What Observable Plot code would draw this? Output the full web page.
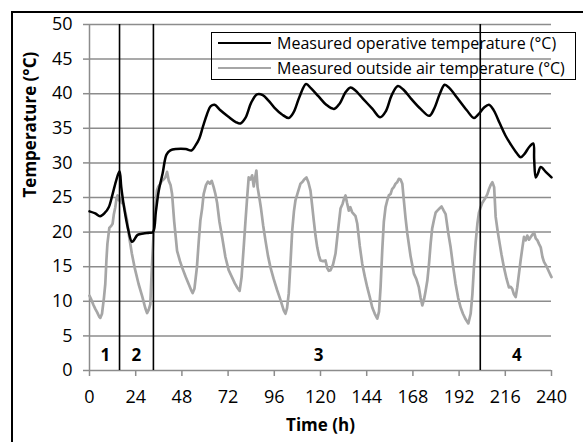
<!DOCTYPE html>
<html>
<head>
<meta charset="utf-8">
<script src="https://cdn.jsdelivr.net/npm/d3@7"></script>
<script src="https://cdn.jsdelivr.net/npm/@observablehq/plot@0.6"></script>
<style>
  html, body { margin: 0; padding: 0; background: #fff; }
  #wrap { position: relative; width: 583px; height: 442px; overflow: hidden; font-family: "Open Sans", sans-serif; }
  #border { position: absolute; left: 11px; top: 11px; width: 640px; height: 500px; border: 2px solid #000; box-sizing: border-box; }
  #chart { position: absolute; left: 0; top: 0; }
  #legend { position: absolute; left: 211px; top: 32px; width: 365px; height: 48px; border: 1.5px solid #000; box-sizing: border-box; }
  .row { position: absolute; left: 0; height: 20px; display: flex; align-items: center; font-size: 16px; white-space: nowrap; }
  .sw { display: inline-block; width: 53px; height: 0; margin-left: 6px; margin-right: 6px; }
</style>
</head>
<body>
<div id="wrap">
  <div id="border"></div>
  <div id="chart"></div>
  <div id="legend"></div>
</div>
<script>
// ---- data ----
const seriesNames = ["Measured operative temperature (°C)", "Measured outside air temperature (°C)"];
const xTicks = [0, 24, 48, 72, 96, 120, 144, 168, 192, 216, 240];
const yTicks = [0, 5, 10, 15, 20, 25, 30, 35, 40, 45, 50];
const xTitle = "Time (h)";
const yTitle = "Temperature (°C)";
const phaseBounds = [15.6, 33.2, 203];
const phaseLabels = ["1", "2", "3", "4"];
const phaseLabelX = [8.2, 24.3, 119, 222];

const opT = [0,3,5.5,8,10,12,14,15.6,16.5,18,20,22,23,25,28,31,33,34.5,36,38,40,42,45,50,53,55,57,59,61,63,65,68,72,76,78.4,81,84,87,90,93,96,100,103.5,106,109,112.5,115,119,123,127,130,133,135.6,138,142,147,151,154,157,160.2,163,167,172,176.5,179,182,184.5,187,191,196,199.7,202,205,207.5,210,213,216,219,222,224,226,228.4,230.5,231,231.8,233,234.4,237,240];
const opV = [23.0,22.7,22.3,22.8,23.6,25.5,27.6,28.8,26.5,23.5,20.5,18.6,18.8,19.6,19.8,19.9,20.0,23,26,28.5,31.2,31.8,32,32,31.8,32.5,33.5,35.3,37,38.2,38.4,37.6,36.7,35.9,35.7,36.5,38.7,39.9,39.8,39,38,37,36.5,37.3,39.5,41.4,40.8,39.6,38.4,37.8,38.6,40.2,40.9,40.5,39.3,37.8,36.6,37.5,39.8,41.1,40.6,39.3,37.8,36.8,37.8,40,41.3,40.8,39.4,37.6,36.5,37,38,38.4,37.6,35.8,34,32.6,31.4,30.8,31.3,32.3,32.8,30.5,27.9,28.5,29.4,28.7,27.9];

const outT = [0,1,2,3,4,5,5.6,6.5,7.5,8.2,8.8,9.3,10.3,11.3,12,12.6,13.4,14,14.6,15.2,15.9,16.8,17.7,18.5,19.5,20.5,22,23.5,25.5,27.5,29,29.9,30.8,31.6,32.4,33.3,34.2,35,35.8,36.8,37.6,38.5,39.4,40.3,41.2,42.1,42.9,44,45.5,47,48.1,50,51.5,53,53.6,54.5,55.8,56.7,57.6,58.5,59.3,60.5,61.5,62.5,63.5,64.5,65.4,66.3,67.5,68.9,70.6,72.3,74,75.5,76.7,78,79,80.1,81,81.9,82.7,83.6,84.5,85.3,86,86.7,87.3,87.9,88.5,89.1,90.2,91.4,92.7,94,95.7,97.5,99.2,100.9,101.8,102.6,103.5,104.4,105.3,106.2,107,108.3,109.6,110.8,111.5,112.7,113.7,114.8,115.6,116.5,117.4,118.3,119.2,120,121.3,122.6,123.5,124.3,125.2,126.5,127.8,129,130.4,131.5,132.2,133,133.8,134.7,135.5,136.4,137.3,138.2,139.1,140.4,141.7,143,144.3,145.6,146.9,148.2,149.5,150.4,151.2,152.1,152.9,153.8,154.6,155.5,156.4,157.2,158.1,159,159.8,160.7,161.6,162.5,163.3,164.2,165.1,166.8,168.5,169.8,171.1,172,172.9,173.8,174.6,175.5,176.4,177.2,178,178.9,179.8,180.7,181.8,182.9,184,185,186.3,187.6,188.9,190.2,191.5,192.8,194,195.4,196.8,198,198.9,199.7,200.6,201.5,202.3,203.2,204,204.9,205.8,206.7,207.5,208.4,209.3,210.2,211,212,212.8,214,215.3,216.6,217.9,218.8,219.6,220.5,221.4,222.2,223.1,224,224.9,225.7,226.6,227.4,228.3,229.2,230,230.9,231.8,232.7,233.5,234.4,235.3,236.1,237.5,238.8,240];
const outV = [10.8,10.2,9.5,8.9,8.4,7.8,7.6,8.2,10.5,12.5,16,18.3,20.6,20.9,21.2,22.5,23.6,24.8,25.3,24.6,24.9,24.2,24.1,23,21.7,19.5,16.9,14.8,12.5,10.6,9.0,8.3,8.8,9.6,14.9,19.8,23.5,26,26.6,27,27.4,27.6,27.9,28.7,27.4,26.8,25.5,21.5,17.3,15.8,14.9,13.5,12.5,11.5,11.2,11.8,14.9,18.5,21.7,23.4,25.5,26.8,27.3,27.0,27.4,26.5,25.5,24.2,21.5,19.3,16.4,14.5,13.5,12.6,12.0,11.5,13.5,17.8,21.5,25,27.9,27.6,28.2,26.6,27.8,28.9,26.5,25.5,24.5,23.4,21,18.8,16.6,14.9,13.2,11.6,10.2,8.7,8.2,9,11.1,15.5,20.2,23,24.6,25.8,27,27.3,27.6,27.9,27.2,26,24,21.7,19.5,17.8,16.6,15.9,15.8,15.9,14.8,14.4,14.5,15.3,16.9,20,23.4,24.1,24.8,25.3,24.2,23.1,23.6,22.9,22.6,22.3,21.2,18,15.4,13.6,12,10.6,9.1,8.2,7.5,8.5,12,17.5,21.5,23.6,24.5,25.3,25.5,26.2,26.5,27,27.2,27.7,27.6,27,24.6,22,19.8,16.5,14,13.2,12,10.5,9.4,10.3,11.5,13,15.5,18.3,20.5,21.7,22.8,23.1,23.4,23.7,23.1,22.6,20,17.8,15,12.5,10.5,9.1,8.2,7.4,6.8,8.2,11,14.9,18.5,21.2,22.8,23.6,24.2,24.6,25,25.5,26.2,26.8,27.2,26.5,22.2,20.2,18.8,16.8,14.9,13.3,12,12.1,11.8,11,10.6,12,14,16,17.8,19.3,18.8,19.5,18.9,19.3,19.6,20,19.1,18.8,18.3,17.8,16.4,15.7,15,14.2,13.5];

const seriesColors = ["#000000", "#a6a6a6"];

// ---- build tables ----
const operative = opT.map((t, i) => ({t, v: opV[i]}));
const outside = outT.map((t, i) => ({t, v: outV[i]}));
const phases = phaseLabels.map((label, i) => ({label, x: phaseLabelX[i]}));

const grid = "#8c8c8c";
const chart = Plot.plot({
  width: 583,
  height: 442,
  marginLeft: 89,
  marginRight: 32,
  marginTop: 24,
  marginBottom: 72,
  style: {fontFamily: "Open Sans, sans-serif", fontSize: "18px", background: "transparent", color: "#000", overflow: "visible"},
  x: {domain: [0, 240], label: null},
  y: {domain: [0, 50], label: null},
  marks: [
    Plot.ruleY(yTicks, {y: d => d, x1: 0, x2: 240, stroke: grid, strokeWidth: 1.5}),
    Plot.ruleX([0], {stroke: grid, strokeWidth: 1.5}),
    Plot.axisY({ticks: yTicks, tickSize: 6, tickPadding: 11, stroke: grid, strokeWidth: 1.5, fill: "#000", label: null, fontSize: 18}),
    Plot.axisX({ticks: xTicks, tickSize: 6, tickPadding: 14, stroke: grid, strokeWidth: 1.5, fill: "#000", label: null, fontSize: 18}),
    Plot.line(outside, {x: "t", y: "v", stroke: seriesColors[1], strokeWidth: 2.7}),
    Plot.line(operative, {x: "t", y: "v", stroke: seriesColors[0], strokeWidth: 2.5, curve: "catmull-rom"}),
    Plot.ruleX(phaseBounds, {y1: 0, y2: 50, stroke: "#000", strokeWidth: 1.6}),
    Plot.text(phases, {x: "x", y: 2.2, text: "label", fontWeight: "bold", fontSize: 17}),
    Plot.text([yTitle], {frameAnchor: "left", rotate: -90, dx: -59, fontWeight: "bold", fontSize: 17}),
    Plot.text([xTitle], {frameAnchor: "bottom", dy: 60, fontWeight: "bold", fontSize: 17})
  ]
});
document.getElementById("chart").appendChild(chart);

// ---- legend ----
const legend = document.getElementById("legend");
seriesNames.forEach((name, i) => {
  const row = document.createElement("div");
  row.className = "row";
  row.style.top = (i === 0 ? 0 : 25) + "px";
  const sw = document.createElement("span");
  sw.className = "sw";
  sw.style.borderTop = "2.5px solid " + seriesColors[i];
  const tx = document.createElement("span");
  tx.textContent = name;
  row.appendChild(sw);
  row.appendChild(tx);
  legend.appendChild(row);
});
</script>
</body>
</html>
